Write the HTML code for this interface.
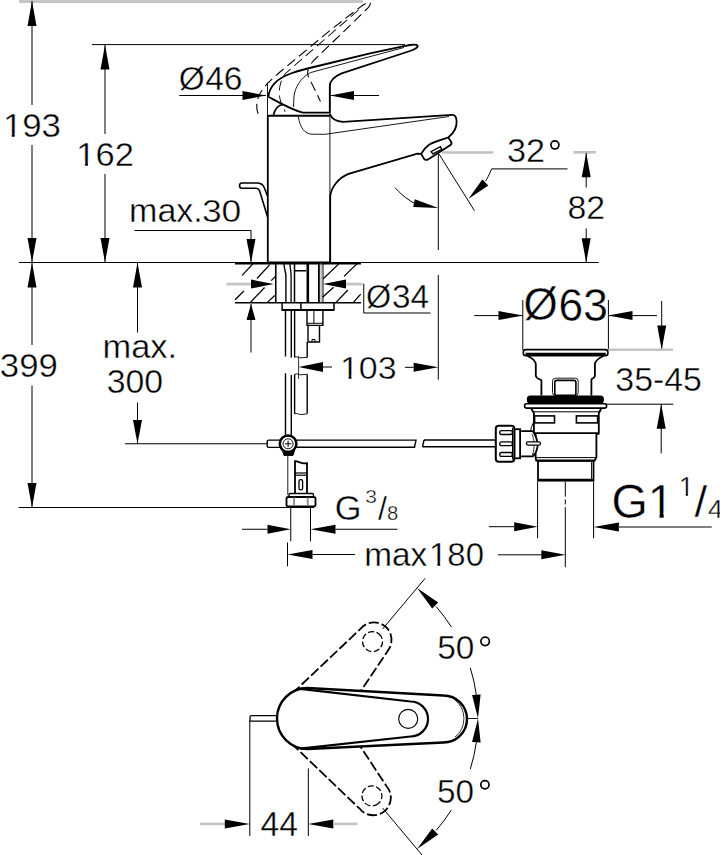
<!DOCTYPE html>
<html><head><meta charset="utf-8"><style>
html,body{margin:0;padding:0;background:#fff;}
svg{display:block;}
text{font-family:"Liberation Sans",sans-serif;stroke:#fff;stroke-width:0.4px;}
</style></head><body>
<svg width="720" height="855" viewBox="0 0 720 855" stroke-linecap="butt">
<path d="M268.3,96.7 C269.5,87 275.5,79 290.8,73.5 C300,70.3 310,67.8 320,65.5 L370,53.3 L404,46.2 C411,44.6 416.5,44.2 417.6,45.6 C418.4,47 415,49.5 410,51 L341.7,73.3 C334,76.5 330,80 329.8,86 L329.8,113" stroke="#000" stroke-width="1.8" fill="none" />
<path d="M268.3,96.7 C280,103 292,110 302.8,112.6 L329.8,112.6" stroke="#000" stroke-width="1.8" fill="none" />
<path d="M404,47.5 L320,70 L310.6,72.6 C300,78 295,88 294,96 L293.5,107" stroke="#000" stroke-width="0.9" fill="none" />
<path d="M273.3,115.6 C275,108 279,105 283,104.5" stroke="#000" stroke-width="1.6" fill="none" />
<line x1="267.5" y1="82.8" x2="267.5" y2="116" stroke="#000" stroke-width="0.9" />
<line x1="329.9" y1="82.8" x2="329.9" y2="262.5" stroke="#000" stroke-width="0.9" />
<line x1="267.5" y1="115.8" x2="329.9" y2="115.8" stroke="#000" stroke-width="2.0" />
<line x1="267.8" y1="115" x2="267.8" y2="262.5" stroke="#000" stroke-width="1.8" />
<path d="M329.9,114.2 C332,119.5 336,121.6 343,121.8 L452.2,114.9 C455,114.7 456.3,117 456.6,121 C457,127 454,133 448.2,137.5" stroke="#000" stroke-width="1.8" fill="none" />
<path d="M298.3,116.7 C300,128 305,134 312,134.2 L325,134.3 L449,116.5" stroke="#000" stroke-width="0.9" fill="none" />
<path d="M330.2,262.5 L330.2,196.1 C331,188 338,178 348.6,173.9 L417.4,153.7 L421.1,153.9" stroke="#000" stroke-width="1.8" fill="none" />
<path d="M421.1,153.9 L424,158.8 C425,160 426.5,160.2 428,159.4 L450.5,145 C451.8,144 451.6,142.5 451,141.5 L448.2,137.5 C440,140 433,142 429.1,144.7 C425,147.5 423,150.5 421.1,153.9" stroke="#000" stroke-width="1.8" fill="none" />
<path d="M431,151.6 L432.9,153.9 L441.7,149.3 L440.4,146.6 Z" stroke="#000" stroke-width="1.4" fill="none" />
<path d="M267.5,216.7 L259.5,190.5 Q258.5,188.3 256,188.3 L242,188.3 Q239.5,188.3 239.5,185.8 Q239.5,183 242,183 L257,183 Q262,183 264,187 L267.5,196" stroke="#000" stroke-width="1.6" fill="none" />
<g transform="rotate(-26 300 127.4)" stroke-dasharray="10,5"><path d="M268.3,96.7 C269.5,87 275.5,79 290.8,73.5 C300,70.3 310,67.8 320,65.5 L370,53.3 L404,46.2 C411,44.6 416.5,44.2 417.6,45.6 C418.4,47 415,49.5 410,51 L341.7,73.3 C334,76.5 330,80 329.8,86 L329.8,113" stroke="#000" stroke-width="1.1" fill="none"/><path d="M404,47.5 L320,70 L310.6,72.6 C300,78 295,88 294,96 L293.5,107" stroke="#000" stroke-width="0.9" fill="none"/></g>
<line x1="234.9" y1="302.8" x2="361" y2="302.8" stroke="#000" stroke-width="1.6" />
<line x1="268.9" y1="262.6" x2="329.5" y2="262.6" stroke="#000" stroke-width="2.2" />
<line x1="242.1" y1="275.4" x2="252.8" y2="263.9" stroke="#000" stroke-width="1.3" />
<line x1="257" y1="278.5" x2="269.8" y2="264.6" stroke="#000" stroke-width="1.3" />
<line x1="271.2" y1="280.6" x2="275.2" y2="276.6" stroke="#000" stroke-width="1.3" />
<line x1="235.1" y1="299.7" x2="243.8" y2="291" stroke="#000" stroke-width="1.3" />
<line x1="250.4" y1="302.4" x2="264.6" y2="287.5" stroke="#000" stroke-width="1.3" />
<line x1="267.4" y1="302.4" x2="274.7" y2="295.5" stroke="#000" stroke-width="1.3" />
<line x1="323.2" y1="278.8" x2="338.8" y2="263.9" stroke="#000" stroke-width="1.3" />
<line x1="344" y1="276.4" x2="356.9" y2="263.9" stroke="#000" stroke-width="1.3" />
<line x1="322.5" y1="297.2" x2="333.6" y2="287.2" stroke="#000" stroke-width="1.3" />
<line x1="336" y1="302.4" x2="347.9" y2="290" stroke="#000" stroke-width="1.3" />
<line x1="353.4" y1="302.4" x2="360.7" y2="294.1" stroke="#000" stroke-width="1.3" />
<line x1="235" y1="263.4" x2="361" y2="263.4" stroke="#000" stroke-width="2.0" />
<line x1="275.75" y1="263" x2="275.75" y2="302.8" stroke="#000" stroke-width="1.6" />
<path d="M284,264 C284.3,270 285.9,272 285.9,276 L285.9,302.8" stroke="#000" stroke-width="1.4" fill="none" />
<path d="M290,264 C290.3,270 291.1,272 291.1,276 L291.1,302.8" stroke="#000" stroke-width="1.3" fill="none" />
<line x1="294.5" y1="263" x2="294.5" y2="302.8" stroke="#000" stroke-width="1.5" />
<line x1="294.5" y1="270.75" x2="306.1" y2="270.75" stroke="#000" stroke-width="1.5" />
<line x1="307.8" y1="263" x2="307.8" y2="302.8" stroke="#000" stroke-width="2.6" />
<line x1="318.9" y1="263" x2="318.9" y2="302.8" stroke="#000" stroke-width="1.8" />
<line x1="321.1" y1="263" x2="321.1" y2="302.8" stroke="#777" stroke-width="0.8" />
<line x1="323" y1="263" x2="323" y2="302.8" stroke="#000" stroke-width="1.0" />
<path d="M282.1,302.8 L282.1,310 L334,310 L334,302.8" stroke="#000" stroke-width="1.5" fill="none" />
<line x1="282.1" y1="310" x2="334" y2="310" stroke="#000" stroke-width="2.0" />
<line x1="300.9" y1="302.8" x2="300.9" y2="310" stroke="#000" stroke-width="1.5" />
<path d="M307,310.5 L307,325.4 L322.9,325.4 L322.9,310.5" stroke="#000" stroke-width="1.4" fill="none" />
<line x1="313.9" y1="310.5" x2="313.9" y2="323.3" stroke="#000" stroke-width="1.0" />
<line x1="307" y1="323.3" x2="322.9" y2="323.3" stroke="#000" stroke-width="1.0" />
<path d="M308,325.4 L308,342 L319.5,342 L319.5,325.4" stroke="#000" stroke-width="1.4" fill="none" />
<path d="M312,342 L312,339.5 L315,339.5 L315,342" stroke="#000" stroke-width="1.0" fill="none" />
<path d="M285.5,310.5 L285.5,356.5 M291.3,310.5 L291.3,357.5" stroke="#000" stroke-width="1.4" fill="none" />
<path d="M285.5,373.3 L285.5,435.7 M291.3,375 L291.3,435.7" stroke="#000" stroke-width="1.4" fill="none" />
<path d="M294.6,310.5 L294.6,357.3 M307.2,342 L307.2,357.5" stroke="#000" stroke-width="1.4" fill="none" />
<path d="M294.6,357.3 C297,356 299,358 301,357.8 C303,357.6 305,357.3 307.2,357.5" stroke="#000" stroke-width="0.9" fill="none" />
<path d="M294.6,374.3 L294.6,413.8 M307.2,374.3 L307.2,413.8" stroke="#000" stroke-width="1.4" fill="none" />
<path d="M294.6,374.3 C297,373 299,375 301,374.8 C303,374.6 305,374.3 307.2,374.3" stroke="#000" stroke-width="0.9" fill="none" />
<path d="M294.6,413.8 C297,412.8 299,414.6 301,414.6 C303,414.6 305,414 307.2,413.8" stroke="#000" stroke-width="0.9" fill="none" />
<path d="M296.5,440.1 L416,440.1 L414.5,447.2 L296.5,447.2" stroke="#000" stroke-width="1.4" fill="none" />
<path d="M424,440 L495.8,440 M422.5,446.8 L495.8,446.8 M424,440 L422.5,446.8" stroke="#000" stroke-width="1.4" fill="none" />
<path d="M280,440.1 L268.5,440.1 Q267.2,440.1 267.2,441.5 L267.2,446 Q267.2,447.4 268.5,447.4 L280,447.4" stroke="#000" stroke-width="1.4" fill="none" />
<path d="M282.3,450 L294.7,450 L293,455.4 L284,455.4 Z" stroke="#000" stroke-width="1.0" fill="#000" />
<circle cx="288.1" cy="443.8" r="8.3" stroke="#000" stroke-width="2.6" fill="#fff" />
<circle cx="288.1" cy="443.8" r="5.0" stroke="#000" stroke-width="0.9" fill="none" />
<path d="M288.1,440.6 L288.1,447 M284.9,443.8 L291.3,443.8" stroke="#000" stroke-width="1.0" fill="none" />
<line x1="287.8" y1="455.4" x2="287.8" y2="494.9" stroke="#000" stroke-width="0.9" />
<path d="M295,493.5 L295,461.2 C298,461.5 301,463 304,463.4 L307,463.2 L307,493.5" stroke="#000" stroke-width="1.8" fill="none" />
<line x1="295" y1="473" x2="307" y2="473" stroke="#000" stroke-width="1.2" />
<line x1="295" y1="475.2" x2="307" y2="475.2" stroke="#000" stroke-width="1.2" />
<rect x="299" y="479.7" width="3.6" height="10.2" rx="1.6" stroke="#000" stroke-width="1.3" fill="none"/>
<rect x="289" y="493.5" width="24.5" height="3.3" rx="1.2" stroke="#000" stroke-width="1.4" fill="#fff"/>
<rect x="286.5" y="497" width="29" height="9.5" rx="1.8" stroke="#000" stroke-width="1.8" fill="#fff"/>
<line x1="294" y1="497.5" x2="294" y2="506" stroke="#888" stroke-width="1.8" />
<line x1="307.7" y1="497.5" x2="307.7" y2="506" stroke="#888" stroke-width="1.8" />
<line x1="288.5" y1="507" x2="314" y2="507" stroke="#000" stroke-width="2.0" />
<rect x="523.3" y="349.6" width="84.6" height="6.2" rx="2.5" stroke="#000" stroke-width="1.6" fill="#fff"/>
<line x1="525.5" y1="354.3" x2="605.8" y2="354.3" stroke="#000" stroke-width="3.0" />
<path d="M527.5,356 C532,358 535.5,360 535.8,364.3 L535.8,375.5 C536,377.5 537.5,378.5 539,379 L541.4,380.3 L541.4,395.5" stroke="#000" stroke-width="1.8" fill="none" />
<path d="M603.5,356 C599,358 595.2,360 594.9,364.3 L594.9,375.5 C594.7,377.5 593.2,378.5 591.7,379 L591.4,380.3 L591.4,395.5" stroke="#000" stroke-width="1.8" fill="none" />
<rect x="552.5" y="378.2" width="25.7" height="17.4" rx="3" stroke="#000" stroke-width="0.9" fill="none"/>
<rect x="554.8" y="380.4" width="21.1" height="15" rx="2" stroke="#000" stroke-width="1.6" fill="none"/>
<rect x="526.8" y="395.6" width="77.1" height="8" rx="3.5" fill="#000"/>
<rect x="524.6" y="403.8" width="82" height="4.3" rx="2" stroke="#000" stroke-width="1.6" fill="#fff"/>
<path d="M530.9,408 L533.9,413 L533.9,433.6 L535.6,434.5 L535.6,457.3 L536.2,460.5 L594.7,460.5 L596.4,457.3 L596.4,434.5 L598.8,433.6 L598.8,413 L601.5,408" stroke="#000" stroke-width="1.8" fill="none" />
<line x1="532" y1="411.8" x2="600.5" y2="411.8" stroke="#000" stroke-width="1.0" />
<line x1="534" y1="433.2" x2="598.8" y2="433.2" stroke="#000" stroke-width="1.8" />
<line x1="536.2" y1="457.6" x2="596.4" y2="457.6" stroke="#000" stroke-width="1.0" />
<rect x="534.6" y="415.9" width="19.9" height="7" stroke="#000" stroke-width="1.6" fill="none"/>
<rect x="576.4" y="415.9" width="21.2" height="7" stroke="#000" stroke-width="1.6" fill="none"/>
<rect x="538" y="461" width="55.5" height="19.5" stroke="#000" stroke-width="1.8" fill="#fff"/>
<line x1="538" y1="480" x2="593.5" y2="480" stroke="#000" stroke-width="2.6" />
<line x1="591.5" y1="461.5" x2="591.5" y2="479" stroke="#000" stroke-width="0.9" />
<path d="M520.1,431.1 L532.8,431.1 C536,436 538,442 537.5,447 C537,451 535,454 532.8,456.4 L520.1,456.4 Z" stroke="#000" stroke-width="1.8" fill="#fff" />
<line x1="520.1" y1="431.1" x2="520.1" y2="456.4" stroke="#fff" stroke-width="2.2" />
<path d="M532,434 C534.5,440 535,447 532.5,455" stroke="#000" stroke-width="0.8" fill="none" />
<rect x="514.3" y="429.2" width="5.8" height="29.1" stroke="#000" stroke-width="1.8" fill="#fff"/>
<rect x="495.8" y="425.8" width="18.5" height="35.9" rx="3" stroke="#000" stroke-width="2" fill="#fff"/>
<line x1="512.5" y1="428" x2="512.5" y2="459.5" stroke="#000" stroke-width="1.0" />
<rect x="499.7" y="430.6" width="12.7" height="3.9" rx="1.9" stroke="#000" stroke-width="1.3" fill="none"/>
<rect x="499.7" y="441.8" width="12.7" height="3.9" rx="1.9" stroke="#000" stroke-width="1.3" fill="none"/>
<rect x="499.7" y="452.5" width="12.7" height="3.9" rx="1.9" stroke="#000" stroke-width="1.3" fill="none"/>
<rect x="526.4" y="441.8" width="14.1" height="3.4" rx="1.7" stroke="#000" stroke-width="1.3" fill="#fff"/>
<path d="M530.5,431 C531.5,426 533,423 534,422" stroke="#000" stroke-width="1.0" fill="none" />
<g transform="rotate(-50 307.5 718.5)" stroke-dasharray="10,3" stroke="#000" fill="none"><path d="M304,689.2 L410.5,701.5 A17.5,17.5 0 0 1 410.5,736.5 L304,748.2" stroke-width="1.8"/><circle cx="408.2" cy="718.9" r="10" stroke-width="1.3" stroke-dasharray="6,2.5"/></g>
<g transform="rotate(50 307.5 718.5)" stroke-dasharray="10,3" stroke="#000" fill="none"><path d="M304,689.2 L410.5,701.5 A17.5,17.5 0 0 1 410.5,736.5 L304,748.2" stroke-width="1.8"/><circle cx="408.2" cy="718.9" r="10" stroke-width="1.3" stroke-dasharray="6,2.5"/></g>
<path d="M307.5,688 L443.5,695.5 A23.5,23.5 0 0 1 443.5,742.5 L307.5,749 A30.5,30.5 0 0 1 307.5,688 Z" stroke="#000" stroke-width="2.4" fill="#fff" />
<path d="M455,700 A19.5,22 0 0 1 455,737" stroke="#000" stroke-width="0.8" fill="none" />
<path d="M300,688.8 L410.5,701.5 A17.5,17.5 0 0 1 410.5,736.5 L300,748.6" stroke="#000" stroke-width="2.2" fill="none" />
<circle cx="408.2" cy="718.9" r="9.5" stroke="#000" stroke-width="1.1" fill="none" />
<path d="M277.8,715.6 L251.5,715.6 Q250,715.6 250,717 L250,721.1 L277.8,721.1" stroke="#000" stroke-width="1.3" fill="none" />
<line x1="249.8" y1="721" x2="249.8" y2="836.1" stroke="#000" stroke-width="1.0" />
<line x1="308.3" y1="768.4" x2="308.3" y2="836.1" stroke="#000" stroke-width="1.0" />
<line x1="382.71" y1="628.87" x2="425.13" y2="578.31" stroke="#000" stroke-width="1.0" />
<line x1="382.71" y1="808.13" x2="425.13" y2="858.69" stroke="#000" stroke-width="1.0" />
<path d="M436.18,606.64 A170.5,170.5 0 0 1 451.30,626.89" stroke="#000" stroke-width="1.0" fill="none" />
<path d="M470.29,667.80 A170.5,170.5 0 0 1 476.34,694.77" stroke="#000" stroke-width="1.0" fill="none" />
<path d="M476.34,742.23 A170.5,170.5 0 0 1 470.29,769.20" stroke="#000" stroke-width="1.0" fill="none" />
<path d="M451.30,810.11 A170.5,170.5 0 0 1 436.18,830.36" stroke="#000" stroke-width="1.0" fill="none" />
<path d="M417.10,587.89L432.20,608.60L438.20,602.44Z" fill="#000"/>
<path d="M478.00,718.50L480.63,694.47L472.05,695.07Z" fill="#000"/>
<path d="M478.00,718.50L472.05,741.93L480.63,742.53Z" fill="#000"/>
<path d="M417.10,849.11L438.20,834.56L432.20,828.40Z" fill="#000"/>
<line x1="466.6" y1="718.5" x2="478" y2="718.5" stroke="#000" stroke-width="0.9" />
<rect x="19" y="0" width="344" height="3" fill="#c6c6c6"/>
<line x1="32" y1="1" x2="32" y2="105" stroke="#000" stroke-width="1" />
<line x1="32" y1="145" x2="32" y2="262.5" stroke="#000" stroke-width="1" />
<path d="M32.00,1.00L27.50,26.00L36.50,26.00Z" fill="#000"/>
<path d="M32.00,262.50L36.50,238.00L27.50,238.00Z" fill="#000"/>
<g transform="translate(2.94,137.17) scale(1.040,1)"><text font-size="33.45" fill="#000">193</text><rect x="1.54" y="-3.50" width="6.87" height="4.84" fill="#fff"/><rect x="11.37" y="-3.50" width="6.61" height="4.84" fill="#fff"/></g>
<line x1="92" y1="44.6" x2="405" y2="44.6" stroke="#000" stroke-width="1" />
<line x1="105" y1="45" x2="105" y2="134" stroke="#000" stroke-width="1" />
<line x1="105" y1="174" x2="105" y2="262.5" stroke="#000" stroke-width="1" />
<path d="M105.00,45.00L100.50,69.50L109.50,69.50Z" fill="#000"/>
<path d="M105.00,262.50L109.50,238.00L100.50,238.00Z" fill="#000"/>
<g transform="translate(76.22,165.67) scale(1.044,1)"><text font-size="33.10" fill="#000">162</text><rect x="1.53" y="-3.47" width="6.79" height="4.79" fill="#fff"/><rect x="11.25" y="-3.47" width="6.54" height="4.79" fill="#fff"/></g>
<line x1="19" y1="262.5" x2="598.7" y2="262.5" stroke="#000" stroke-width="1" />
<g transform="translate(129.09,222.17) scale(1.023,1)"><text font-size="33.27" fill="#000">max.</text></g>
<g transform="translate(201.88,222.18) scale(1.119,1)"><text font-size="31.69" fill="#000">30</text></g>
<line x1="134.5" y1="230.5" x2="251" y2="230.5" stroke="#000" stroke-width="1" />
<line x1="251" y1="230.5" x2="251" y2="262.5" stroke="#000" stroke-width="1" />
<path d="M251.00,262.50L255.50,239.00L246.50,239.00Z" fill="#000"/>
<line x1="251" y1="304" x2="251" y2="352.5" stroke="#000" stroke-width="1" />
<path d="M251.00,304.00L246.50,320.00L255.50,320.00Z" fill="#000"/>
<line x1="137.5" y1="262.5" x2="137.5" y2="332.5" stroke="#000" stroke-width="1" />
<path d="M137.50,262.50L133.00,287.50L142.00,287.50Z" fill="#000"/>
<g transform="translate(102.51,357.76) scale(1.013,1)"><text font-size="34.00" fill="#000">max.</text></g>
<g transform="translate(106.75,393.17) scale(1.033,1)"><text font-size="32.75" fill="#000">300</text></g>
<line x1="137.5" y1="402.5" x2="137.5" y2="443.75" stroke="#000" stroke-width="1" />
<path d="M137.50,443.75L142.00,420.00L133.00,420.00Z" fill="#000"/>
<line x1="125" y1="443.75" x2="267.5" y2="443.75" stroke="#000" stroke-width="1" />
<line x1="32" y1="262.5" x2="32" y2="345" stroke="#000" stroke-width="1" />
<line x1="32" y1="385.5" x2="32" y2="507.5" stroke="#000" stroke-width="1" />
<path d="M32.00,262.50L27.50,287.50L36.50,287.50Z" fill="#000"/>
<path d="M32.00,507.50L36.50,483.00L27.50,483.00Z" fill="#000"/>
<g transform="translate(-0.14,376.67) scale(1.063,1)"><text font-size="32.75" fill="#000">399</text></g>
<line x1="18.75" y1="507.5" x2="290" y2="507.5" stroke="#000" stroke-width="1" />
<g transform="translate(178.63,90.05) scale(0.982,1)"><text font-size="33.96" fill="#000">Ø</text></g>
<g transform="translate(205.13,90.27) scale(1.020,1)"><text font-size="32.96" fill="#000">46</text></g>
<line x1="179.3" y1="95.5" x2="266" y2="95.5" stroke="#000" stroke-width="1" />
<path d="M266.00,95.50L242.50,91.00L242.50,100.00Z" fill="#000"/>
<line x1="330" y1="95.5" x2="379" y2="95.5" stroke="#000" stroke-width="1" />
<path d="M330.00,95.50L354.00,100.00L354.00,91.00Z" fill="#000"/>
<line x1="442" y1="152.5" x2="493.3" y2="152.5" stroke="#c2c2c2" stroke-width="2.7" />
<line x1="573.6" y1="152.3" x2="595.7" y2="152.3" stroke="#c2c2c2" stroke-width="2.7" />
<g transform="translate(506.93,162.47) scale(1.029,1)"><text font-size="33.24" fill="#000">32</text></g>
<circle cx="554.9" cy="144.95" r="4.0" stroke="#000" stroke-width="1.7" fill="none" />
<line x1="491.7" y1="168.9" x2="567.5" y2="168.9" stroke="#000" stroke-width="1" />
<path d="M491.7,168.9 C489,175 487,179 485.6,181.1" stroke="#000" stroke-width="1" fill="none" />
<path d="M468.30,198.90L488.29,185.59L482.31,179.41Z" fill="#000"/>
<line x1="438.9" y1="153.9" x2="474.4" y2="210.6" stroke="#000" stroke-width="1" />
<path d="M395.1,187.7 C400,193 405,198 414,203" stroke="#000" stroke-width="1" fill="none" />
<path d="M438.30,207.90L414.78,199.18L413.22,207.02Z" fill="#000"/>
<line x1="438.3" y1="153.3" x2="438.3" y2="250" stroke="#000" stroke-width="1" />
<line x1="438.3" y1="275" x2="438.3" y2="379.6" stroke="#000" stroke-width="1" />
<line x1="586.2" y1="153" x2="586.2" y2="187.5" stroke="#000" stroke-width="1" />
<line x1="586.2" y1="228.4" x2="586.2" y2="262.5" stroke="#000" stroke-width="1" />
<path d="M586.20,153.00L581.70,177.30L590.70,177.30Z" fill="#000"/>
<path d="M586.20,262.50L590.70,238.20L581.70,238.20Z" fill="#000"/>
<g transform="translate(567.48,219.27) scale(1.021,1)"><text font-size="33.10" fill="#000">82</text></g>
<line x1="404.9" y1="367.3" x2="413.6" y2="367.3" stroke="#000" stroke-width="1" />
<path d="M438.30,367.30L413.60,362.80L413.60,371.80Z" fill="#000"/>
<g transform="translate(339.98,378.68) scale(1.056,1)"><text font-size="32.11" fill="#000">103</text><rect x="1.48" y="-3.36" width="6.59" height="4.65" fill="#fff"/><rect x="10.91" y="-3.36" width="6.34" height="4.65" fill="#fff"/></g>
<line x1="298.6" y1="356.4" x2="298.6" y2="378.9" stroke="#000" stroke-width="0.8" />
<path d="M298.60,367.00L323.00,371.90L323.00,362.10Z" fill="#000"/>
<line x1="323" y1="367" x2="332" y2="367" stroke="#000" stroke-width="1" />
<line x1="226.4" y1="284.1" x2="251" y2="284.1" stroke="#c4c4c4" stroke-width="2.8" />
<path d="M273.75,284.10L251.00,279.60L251.00,288.60Z" fill="#000"/>
<line x1="346" y1="284.1" x2="362.5" y2="284.1" stroke="#c4c4c4" stroke-width="2.8" />
<path d="M323.00,284.10L346.00,288.60L346.00,279.60Z" fill="#000"/>
<line x1="363.75" y1="283.75" x2="363.75" y2="313" stroke="#000" stroke-width="1" />
<line x1="363.75" y1="313" x2="430.5" y2="313" stroke="#000" stroke-width="1" />
<g transform="translate(366.07,307.76) scale(0.964,1)"><text font-size="33.56" fill="#000">Ø</text></g>
<g transform="translate(391.97,308.26) scale(0.991,1)"><text font-size="33.66" fill="#000">34</text></g>
<g transform="translate(523.46,319.87) scale(0.969,1)"><text font-size="45.37" fill="#000">Ø</text></g>
<g transform="translate(558.58,321.24) scale(0.962,1)"><text font-size="46.06" fill="#000">63</text></g>
<line x1="474.2" y1="315.6" x2="522.8" y2="315.6" stroke="#000" stroke-width="1" />
<path d="M522.80,315.60L498.50,311.10L498.50,320.10Z" fill="#000"/>
<line x1="608" y1="315.6" x2="657" y2="315.6" stroke="#000" stroke-width="1" />
<path d="M608.00,315.60L632.50,320.10L632.50,311.10Z" fill="#000"/>
<line x1="522.8" y1="300" x2="522.8" y2="350" stroke="#000" stroke-width="1" />
<line x1="608.4" y1="300" x2="608.4" y2="350" stroke="#000" stroke-width="1" />
<line x1="661.7" y1="301" x2="661.7" y2="349.8" stroke="#000" stroke-width="1" />
<path d="M661.70,349.80L666.20,325.50L657.20,325.50Z" fill="#000"/>
<line x1="608.4" y1="349.8" x2="673" y2="349.8" stroke="#c4c4c4" stroke-width="2.6" />
<g transform="translate(615.35,391.17) scale(1.027,1)"><text font-size="32.96" fill="#000">35-45</text></g>
<line x1="605.3" y1="404.2" x2="673.3" y2="404.2" stroke="#000" stroke-width="1" />
<line x1="661.2" y1="404.2" x2="661.2" y2="453.3" stroke="#000" stroke-width="1" />
<path d="M661.20,404.20L656.70,428.70L665.70,428.70Z" fill="#000"/>
<g transform="translate(334.78,520.15) scale(0.976,1)"><text font-size="35.21" fill="#000">G</text></g>
<g transform="translate(365.16,503.31) scale(1.107,1)"><text font-size="19.01" fill="#000">3</text></g>
<g transform="translate(378.00,520.16) scale(0.945,1)"><text font-size="34.01" fill="#000">/</text></g>
<g transform="translate(387.09,519.80) scale(0.990,1)"><text font-size="20.42" fill="#000">8</text></g>
<line x1="242" y1="529.25" x2="267.5" y2="529.25" stroke="#000" stroke-width="1" />
<path d="M290.75,529.25L267.50,524.75L267.50,533.75Z" fill="#000"/>
<line x1="335.5" y1="529.25" x2="397.5" y2="529.25" stroke="#000" stroke-width="1" />
<path d="M310.50,529.25L335.50,533.75L335.50,524.75Z" fill="#000"/>
<line x1="290.75" y1="507.5" x2="290.75" y2="541.25" stroke="#000" stroke-width="1" />
<line x1="310.5" y1="507.5" x2="310.5" y2="541.25" stroke="#000" stroke-width="1" />
<line x1="287.5" y1="542.5" x2="287.5" y2="566.25" stroke="#000" stroke-width="1" />
<path d="M287.50,554.50L312.50,559.00L312.50,550.00Z" fill="#000"/>
<line x1="312.5" y1="554.5" x2="355" y2="554.5" stroke="#000" stroke-width="1" />
<g transform="translate(364.13,566.16) scale(0.986,1)"><text font-size="33.82" fill="#000">max</text></g>
<g transform="translate(429.07,566.17) scale(0.994,1)"><text font-size="33.10" fill="#000">180</text><rect x="1.53" y="-3.47" width="6.79" height="4.79" fill="#fff"/><rect x="11.25" y="-3.47" width="6.54" height="4.79" fill="#fff"/></g>
<line x1="498" y1="554.8" x2="541.3" y2="554.8" stroke="#000" stroke-width="1" />
<path d="M565.50,554.80L541.30,550.30L541.30,559.30Z" fill="#000"/>
<line x1="565.3" y1="481.5" x2="565.3" y2="496.7" stroke="#000" stroke-width="1" />
<line x1="565.3" y1="499.5" x2="565.3" y2="504.4" stroke="#000" stroke-width="1" />
<line x1="565.3" y1="507.2" x2="565.3" y2="567.2" stroke="#000" stroke-width="1" />
<line x1="537.6" y1="481.5" x2="537.6" y2="538.2" stroke="#000" stroke-width="1" />
<line x1="593.6" y1="481.5" x2="593.6" y2="538.2" stroke="#000" stroke-width="1" />
<line x1="488.9" y1="526.7" x2="514.2" y2="526.7" stroke="#000" stroke-width="1" />
<path d="M537.60,526.70L514.20,522.20L514.20,531.20Z" fill="#000"/>
<line x1="618.9" y1="527" x2="711.7" y2="527" stroke="#000" stroke-width="1" />
<path d="M593.60,527.00L618.90,531.50L618.90,522.50Z" fill="#000"/>
<g transform="translate(611.46,518.23) scale(0.990,1)"><text font-size="47.18" fill="#000">G1</text><rect x="38.88" y="-4.94" width="9.69" height="6.83" fill="#fff"/><rect x="52.74" y="-4.94" width="9.32" height="6.83" fill="#fff"/></g>
<g transform="translate(678.80,495.60) scale(0.983,1)"><text font-size="27.83" fill="#000">1</text><rect x="1.28" y="-2.91" width="5.71" height="4.03" fill="#fff"/><rect x="9.46" y="-2.91" width="5.50" height="4.03" fill="#fff"/></g>
<g transform="translate(694.50,517.46) scale(1.019,1)"><text font-size="44.49" fill="#000">/</text></g>
<g transform="translate(707.97,517.90) scale(1.008,1)"><text font-size="26.52" fill="#000">4</text></g>
<g transform="translate(260.42,836.10) scale(0.975,1)"><text font-size="34.64" fill="#000">44</text></g>
<line x1="200" y1="823.9" x2="224.8" y2="823.9" stroke="#c4c4c4" stroke-width="2.6" />
<path d="M249.80,823.90L224.80,819.40L224.80,828.40Z" fill="#000"/>
<path d="M308.30,823.90L333.30,828.40L333.30,819.40Z" fill="#000"/>
<line x1="333.3" y1="823.9" x2="357.5" y2="823.9" stroke="#c4c4c4" stroke-width="2.6" />
<g transform="translate(437.26,659.17) scale(1.006,1)"><text font-size="33.24" fill="#000">50</text></g>
<circle cx="485.15" cy="641.3" r="4.25" stroke="#000" stroke-width="1.7" fill="none" />
<g transform="translate(436.97,803.16) scale(0.994,1)"><text font-size="33.52" fill="#000">50</text></g>
<circle cx="484.9" cy="784.8" r="4.1" stroke="#000" stroke-width="1.7" fill="none" />
</svg>
</body></html>
